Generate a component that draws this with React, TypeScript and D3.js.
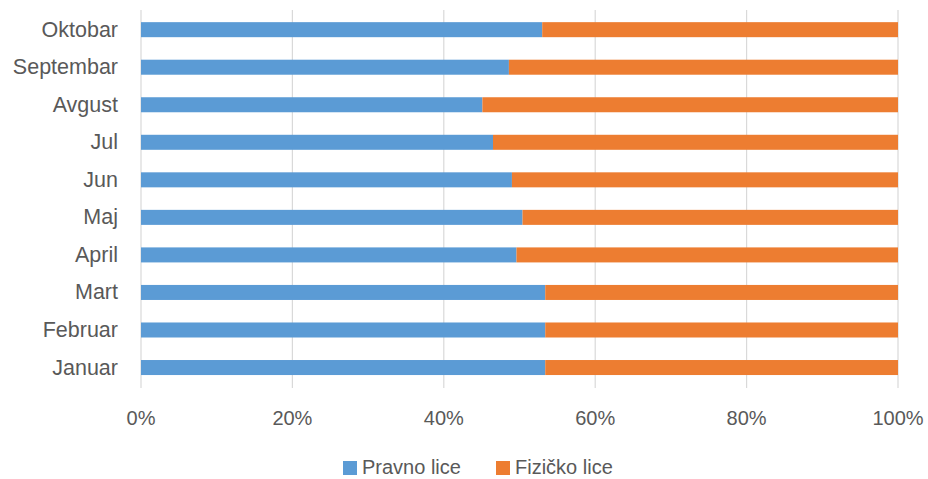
import React from 'react';
import * as d3 from 'd3';

const categories = ['Januar', 'Februar', 'Mart', 'April', 'Maj', 'Jun', 'Jul', 'Avgust', 'Septembar', 'Oktobar'];
const pravnoLice = [53.4, 53.4, 53.4, 49.6, 50.4, 49.0, 46.5, 45.1, 48.6, 53.0];
const fizickoLice = [46.6, 46.6, 46.6, 50.4, 49.6, 51.0, 53.5, 54.9, 51.4, 47.0];
const seriesNames = ['Pravno lice', 'Fizičko lice'];
const seriesColors = ['#5B9BD5', '#ED7D31'];
const xTicks = [0, 0.2, 0.4, 0.6, 0.8, 1];

const W = 928;
const H = 479;
const FONT = '"Liberation Sans", Arial, sans-serif';
const TEXT = '#595959';

export default function App() {
  const rows = categories.map((c, i) => ({ cat: c, p: pravnoLice[i], f: fizickoLice[i] }));
  const stack = d3.stack<any>().keys(['p', 'f']).offset(d3.stackOffsetExpand);
  const layers = stack(rows);

  const x = d3.scaleLinear().domain([0, 1]).range([141, 898]);
  const y = d3
    .scaleBand<string>()
    .domain([...categories].reverse())
    .range([10.9, 386.3])
    .paddingInner(0.6)
    .paddingOuter(0.3);
  const fmt = d3.format('.0%');

  return (
    <div style={{ position: 'absolute', left: 0, top: 0 }}>
      <svg width={W} height={H} style={{ display: 'block', background: '#fff' }}>
        {xTicks.map((t) => (
          <line key={'g' + t} x1={x(t)} x2={x(t)} y1={10} y2={388} stroke="#D9D9D9" strokeWidth={1.2} />
        ))}
        {layers.map((layer, li) => (
          <g key={li} fill={seriesColors[li]}>
            {layer.map((d: any, i: number) => (
              <rect
                key={i}
                x={x(d[0])}
                width={x(d[1]) - x(d[0])}
                y={y(d.data.cat)}
                height={y.bandwidth()}
              />
            ))}
          </g>
        ))}
        {categories.map((c) => (
          <text
            key={c}
            x={118}
            y={(y(c) as number) + y.bandwidth() / 2}
            textAnchor="end"
            dominantBaseline="central"
            fontFamily={FONT}
            fontSize={21.5}
            fill={TEXT}
          >
            {c}
          </text>
        ))}
        {xTicks.map((t) => (
          <text
            key={'t' + t}
            x={x(t)}
            y={418}
            textAnchor="middle"
            dominantBaseline="central"
            fontFamily={FONT}
            fontSize={20}
            fill={TEXT}
          >
            {fmt(t)}
          </text>
        ))}
        {seriesNames.map((n, i) => {
          const lx = i === 0 ? 343 : 496;
          return (
            <g key={n}>
              <rect x={lx} y={461} width={14} height={14} fill={seriesColors[i]} />
              <text
                x={lx + 19}
                y={467}
                dominantBaseline="central"
                fontFamily={FONT}
                fontSize={20}
                fill={TEXT}
              >
                {n}
              </text>
            </g>
          );
        })}
      </svg>
    </div>
  );
}
